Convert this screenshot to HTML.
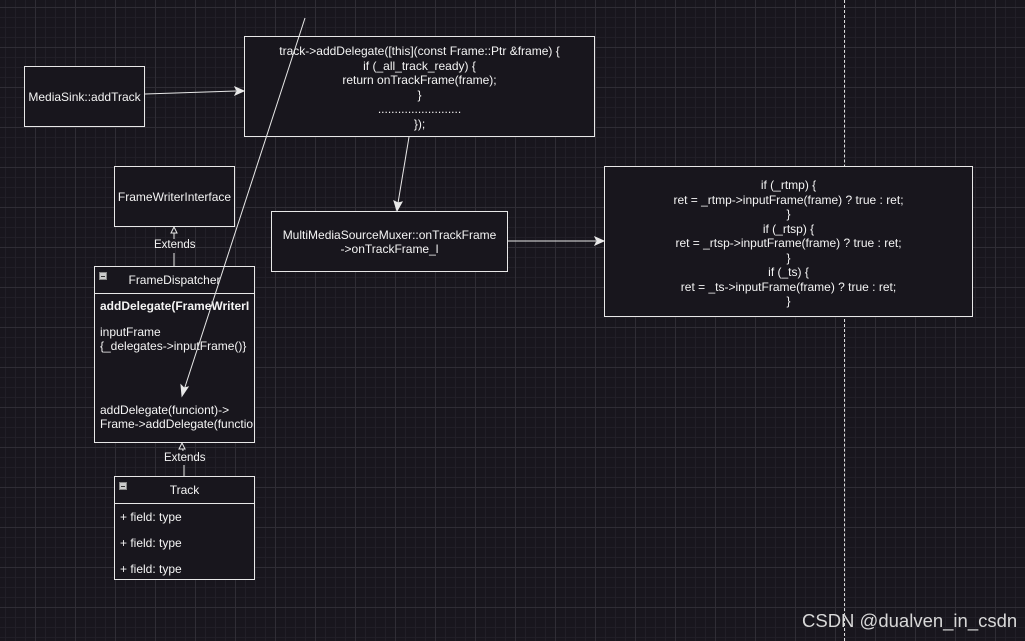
<!DOCTYPE html>
<html><head><meta charset="utf-8"><style>
html,body{margin:0;padding:0}
body{width:1025px;height:641px;overflow:hidden;position:relative;background-color:#18161d;
background-image:linear-gradient(#2f2d35 1px,transparent 1px),linear-gradient(90deg,#2f2d35 1px,transparent 1px),linear-gradient(#211f27 1px,transparent 1px),linear-gradient(90deg,#211f27 1px,transparent 1px);
background-size:40px 40px,40px 40px,10px 10px,10px 10px;background-position:0 7px,-5px 0,0 7px,-5px 0;
font-family:"Liberation Sans",Arial,sans-serif;color:#f4f4f4;font-size:12px}
.b{position:absolute;border:1px solid #e8e8e8;background:#18161d;box-sizing:border-box}
.c{display:flex;align-items:center;justify-content:center;text-align:center;line-height:14px}
.t{position:absolute;white-space:nowrap}
.min{position:absolute;width:8px;height:8px;background:#ccc;border:1px solid #888;box-sizing:border-box}
.min:after{content:"";position:absolute;left:1px;top:3px;width:4px;height:1px;background:#333}
</style></head><body>
<div style="position:absolute;left:844px;top:0;height:641px;border-left:1px dashed #ddd"></div>

<div class="b c" style="left:24px;top:66px;width:121px;height:61px">MediaSink::addTrack</div>
<div class="b" style="left:244px;top:36px;width:351px;height:101px;text-align:center;line-height:14.5px;padding-top:7px">track-&gt;addDelegate([this](const Frame::Ptr &amp;frame) {<br>if (_all_track_ready) {<br>return onTrackFrame(frame);<br>}<br>.........................<br>});</div>
<div class="b c" style="left:114px;top:166px;width:121px;height:61px">FrameWriterInterface</div>
<div class="b c" style="left:271px;top:211px;width:237px;height:61px">MultiMediaSourceMuxer::onTrackFrame<br>-&gt;onTrackFrame_l</div>
<div class="b" style="left:604px;top:166px;width:369px;height:151px;text-align:center;line-height:14.5px;padding-top:11px">if (_rtmp) {<br>ret = _rtmp-&gt;inputFrame(frame) ? true : ret;<br>}<br>if (_rtsp) {<br>ret = _rtsp-&gt;inputFrame(frame) ? true : ret;<br>}<br>if (_ts) {<br>ret = _ts-&gt;inputFrame(frame) ? true : ret;<br>}</div>

<div class="b" style="left:94px;top:266px;width:161px;height:177px;overflow:hidden">
<div class="min" style="left:4px;top:5px"></div>
<div class="t" style="left:0;width:159px;text-align:center;top:6px">FrameDispatcher</div>
<div style="position:absolute;left:0;right:0;top:26px;border-top:1px solid #e8e8e8"></div>
<div class="t" style="left:5px;top:32px;font-weight:bold">addDelegate(FrameWriterI</div>
<div class="t" style="left:5px;top:58px;line-height:14px">inputFrame<br>{_delegates-&gt;inputFrame()}</div>
<div class="t" style="left:5px;top:136px;line-height:14px">addDelegate(funciont)-&gt;<br>Frame-&gt;addDelegate(function</div>
</div>

<div class="b" style="left:114px;top:476px;width:141px;height:104px">
<div class="min" style="left:4px;top:5px"></div>
<div class="t" style="left:0;width:139px;text-align:center;top:6px">Track</div>
<div style="position:absolute;left:0;right:0;top:26px;border-top:1px solid #e8e8e8"></div>
<div class="t" style="left:5px;top:33px">+ field: type</div>
<div class="t" style="left:5px;top:59px">+ field: type</div>
<div class="t" style="left:5px;top:85px">+ field: type</div>
</div>

<svg width="1025" height="641" style="position:absolute;left:0;top:0" fill="none" stroke="#e8e8e8">
<line x1="145" y1="94" x2="236" y2="91"/>
<path d="M244,91 L235,87 L237,91 L235,95 Z" fill="#e8e8e8"/>
<line x1="305" y1="18" x2="184" y2="390"/>
<path d="M182,396 L181,385 L184,388 L188,387 Z" fill="#e8e8e8"/>
<line x1="409" y1="137" x2="398" y2="203"/>
<path d="M397,211 L394,201 L398,203 L402,202 Z" fill="#e8e8e8"/>
<line x1="508" y1="241" x2="596" y2="241"/>
<path d="M604,241 L595,237 L597,241 L595,245 Z" fill="#e8e8e8"/>
<line x1="174" y1="227" x2="174" y2="239"/>
<line x1="174" y1="253" x2="174" y2="266"/>
<path d="M174,227 L171,233 L177,233 Z" fill="#18161d"/>
<line x1="182" y1="443" x2="183" y2="451"/>
<line x1="184" y1="465" x2="184" y2="476"/>
<path d="M182,443 L179,449 L185,449 Z" fill="#18161d"/>
</svg>
<div class="t" style="left:154px;top:239px;font-size:11.5px">Extends</div>
<div class="t" style="left:164px;top:452px;font-size:11.5px">Extends</div>
<div class="t" style="left:802px;top:610px;font-size:18.5px;color:#d8d8d8">CSDN @dualven_in_csdn</div>
</body></html>
